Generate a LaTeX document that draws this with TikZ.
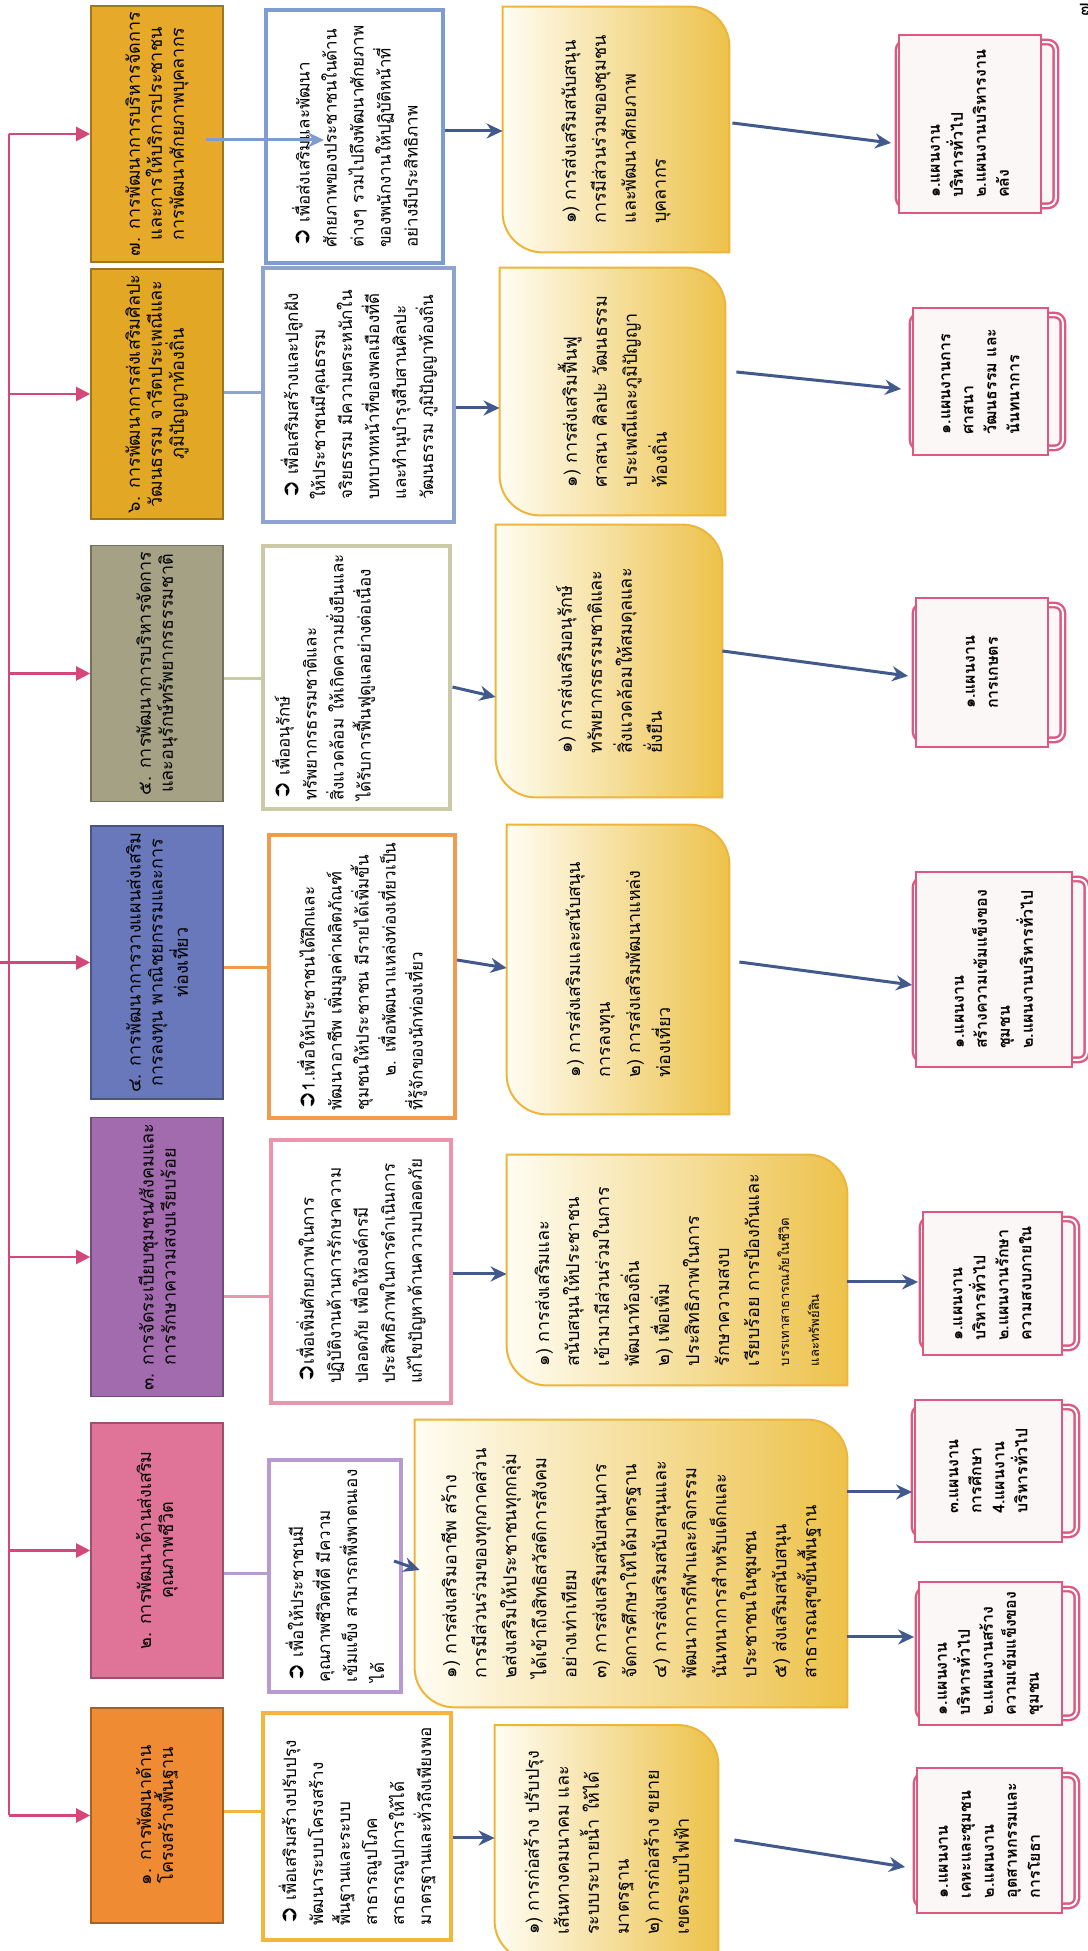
\documentclass[tikz,border=0pt]{standalone}
\usepackage{fontspec}
\setmainfont[Script=Thai]{Loma}
\newfontfamily\symfont{DejaVu Sans}
\usepackage{xcolor}
\usepackage{tikz}
\usetikzlibrary{arrows.meta, calc, backgrounds}
\definecolor{trunkpink}{HTML}{D4477A}
\definecolor{arrblue}{HTML}{41598C}
\definecolor{gOne}{HTML}{EF8B33}
\definecolor{gTwo}{HTML}{DF7398}
\definecolor{gThree}{HTML}{A16BAE}
\definecolor{gFour}{HTML}{6878BA}
\definecolor{gFive}{HTML}{A5A185}
\definecolor{gSix}{HTML}{E3A726}
\definecolor{gSeven}{HTML}{E7A92A}
\definecolor{oOne}{HTML}{F3B63C}
\definecolor{oTwo}{HTML}{B89AD3}
\definecolor{oThree}{HTML}{EC94AC}
\definecolor{oFour}{HTML}{F39B4C}
\definecolor{oFive}{HTML}{CACAA6}
\definecolor{oSix}{HTML}{8EA3CF}
\definecolor{oSeven}{HTML}{7F9CD1}
\definecolor{stratline}{HTML}{EDB53A}
\definecolor{stratlight}{HTML}{FFFDF3}
\definecolor{stratdark}{HTML}{EDC24A}
\definecolor{planline}{HTML}{DC5A82}
\definecolor{planfill}{HTML}{FCF7F7}
\newcommand\goalfont{\fontsize{9}{11}\selectfont}
\newcommand\objfont{\fontsize{8.5}{13.5}\selectfont}
\newcommand\stratfont{\fontsize{9}{15}\selectfont}
\newcommand\planfont{\fontsize{8}{11.5}\selectfont\bfseries}
\newcommand\bul{{\symfont\fontsize{11.5}{11}\selectfont\char"27B2}}
\newcommand\stratpath[1]{\path[stratshape] (#1.north east) -- ($(#1.south east)+(0,40)$) arc[start angle=0, end angle=-90, radius=20pt] -- (#1.south west) -- ($(#1.north west)+(0,-40)$) arc[start angle=180, end angle=90, radius=20pt] -- cycle;}

\begin{document}
\begin{tikzpicture}[
  x=0.5pt, y=0.5pt, rotate=90, transform shape,
  goal/.style={rectangle, draw=#1!70!black, fill=#1, line width=0.8pt, minimum height=66pt, align=center, font=\goalfont, inner sep=3pt},
  obj/.style={rectangle, draw=#1, fill=white, line width=2pt, align=left, font=\objfont, inner sep=4pt},
  strat/.style={rectangle, align=left, font=\stratfont, inner sep=6pt},
  stratshape/.style={draw=stratline, line width=1pt, left color=stratlight, right color=stratdark},
  plan/.style={rectangle, draw=planline, fill=planfill, line width=0.9pt, align=left, font=\planfont, inner sep=4pt},
  planback/.style={draw=planline, line width=1.2pt, double=white, double distance=1pt, fill=planfill, rounded corners=4pt},
  bus/.style={draw=trunkpink, line width=1.1pt},
  busarr/.style={bus, -{Triangle[length=7pt, width=7pt]}},
  link/.style={draw=#1, line width=1.5pt},
  arr/.style={-{Stealth[length=8pt, width=7.5pt]}, draw=arrblue, line width=1.5pt},
]
\useasboundingbox (0,0) rectangle (1951,1088);

% goals
\node[goal=gOne, minimum width=107.5pt] (g1) at (135.5,931) {๑. การพัฒนาด้าน\\โครงสร้างพื้นฐาน};
\node[goal=gTwo, minimum width=127.5pt] (g2) at (400.5,931) {๒. การพัฒนาด้านส่งเสริม\\คุณภาพชีวิต};
\node[goal=gThree, minimum width=139pt] (g3) at (694,931) {๓. การจัดระเบียบชุมชน/สังคมและ\\การรักษาความสงบเรียบร้อย};
\node[goal=gFour, minimum width=130.5pt] (g4) at (988.5,931) {๔. การพัฒนาการวางแผนส่งเสริม\\การลงทุน พาณิชยกรรมและการ\\ท่องเที่ยว};
\node[goal=gFive, minimum width=126.5pt] (g5) at (1277.5,931) {๕. การพัฒนาการบริหารจัดการ\\และอนุรักษ์ทรัพยากรธรรมชาติ};
\node[goal=gSix, minimum width=119pt] (g6) at (1557,931) {๖. การพัฒนาการส่งเสริมศิลปะ\\วัฒนธรรม จารีตประเพณีและ\\ภูมิปัญญาท้องถิ่น};
\node[goal=gSeven, minimum width=121pt] (g7) at (1817,931) {๗. การพัฒนาการบริหารจัดการ\\และการให้บริการประชาชน\\การพัฒนาศักยภาพบุคลากร};

% objectives
\node[obj=oOne, minimum width=113.5pt, minimum height=94pt] (o1) at (124.5,731) {\bul\ เพื่อเสริมสร้างปรับปรุง\\พัฒนาระบบโครงสร้าง\\พื้นฐานและระบบ\\สาธารณูปโภค\\สาธารณูปการให้ได้\\มาตรฐานและทั่วถึงเพียงพอ};
\node[obj=oTwo, minimum width=116pt, minimum height=66pt] (o2) at (375,753) {\bul\ เพื่อให้ประชาชนมี\\คุณภาพชีวิตที่ดี มีความ\\เข้มแข็ง สามารถพึ่งพาตนเอง\\ได้};
\node[obj=oThree, minimum width=131.5pt, minimum height=90pt] (o3) at (679.5,727) {\bul เพื่อเพิ่มศักยภาพในการ\\ปฏิบัติงานด้านการรักษาความ\\ปลอดภัย เพื่อให้องค์กรมี\\ประสิทธิภาพในการดำเนินการ\\แก้ไขปัญหาด้านความปลอดภัย};
\node[obj=oFour, minimum width=141.5pt, minimum height=93pt] (o4) at (974.5,726) {\bul 1.เพื่อให้ประชาชนได้ฝึกและ\\พัฒนาอาชีพ เพิ่มมูลค่าผลิตภัณฑ์\\ชุมชนให้ประชาชน มีรายได้เพิ่มขึ้น\\\hspace*{2em}๒. เพื่อพัฒนาแหล่งท่องเที่ยวเป็น\\ที่รู้จักของนักท่องเที่ยว};
\node[obj=oFive, minimum width=129.5pt, minimum height=93.5pt] (o5) at (1273.5,731) {\bul\ เพื่ออนุรักษ์\\ทรัพยากรธรรมชาติและ\\สิ่งแวดล้อม ให้เกิดความยั่งยืนและ\\ได้รับการฟื้นฟูดูแลอย่างต่อเนื่อง\\[22pt]};
\node[obj=oSix, minimum width=127pt, minimum height=95.5pt] (o6) at (1556,729) {\bul\ เพื่อเสริมสร้างและปลูกฝัง\\ให้ประชาชนมีคุณธรรม\\จริยธรรม มีความตระหนักใน\\บทบาทหน้าที่ของพลเมืองที่ดี\\และทำนุบำรุงสืบสานศิลปะ\\วัฒนธรรม ภูมิปัญญาท้องถิ่น};
\node[obj=oSeven, minimum width=126.5pt, minimum height=88.5pt] (o7) at (1814.5,733) {\bul\ เพื่อส่งเสริมและพัฒนา\\ศักยภาพของประชาชนในด้าน\\ต่างๆ รวมไปถึงพัฒนาศักยภาพ\\ของพนักงานให้ปฏิบัติหน้าที่\\อย่างมีประสิทธิภาพ};

% strategies
\node[strat, minimum width=117.5pt, minimum height=111.5pt] (s1) at (108,481.5) {๑) การก่อสร้าง ปรับปรุง\\เส้นทางคมนาคม และ\\ระบบระบายน้ำ ให้ได้\\มาตรฐาน\\๒) การก่อสร้าง ขยาย\\เขตระบบไฟฟ้า};
\node[strat, minimum width=143.5pt, minimum height=216pt] (s2) at (387.5,457) {๑) การส่งเสริมอาชีพ สร้าง\\การมีส่วนร่วมของทุกภาคส่วน\\๒ส่งเสริมให้ประชาชนทุกกลุ่ม\\ได้เข้าถึงสิทธิสวัสดิการสังคม\\อย่างเท่าเทียม\\๓) การส่งเสริมสนับสนุนการ\\จัดการศึกษาให้ได้มาตรฐาน\\๔) การส่งเสริมสนับสนุนและ\\พัฒนาการกีฬาและกิจกรรม\\นันทนาการสำหรับเด็กและ\\ประชาชนในชุมชน\\๕) ส่งเสริมสนับสนุน\\สาธารณสุขขั้นพื้นฐาน};
\node[strat, minimum width=115pt, minimum height=170pt] (s3) at (681,411) {๑) การส่งเสริมและ\\สนับสนุนให้ประชาชน\\เข้ามามีส่วนร่วมในการ\\พัฒนาท้องถิ่น\\๒) เพื่อเพิ่ม\\ประสิทธิภาพในการ\\รักษาความสงบ\\เรียบร้อย การป้องกันและ\\{\fontsize{6.5}{11}\selectfont บรรเทาสาธารณภัยในชีวิต}\\{\fontsize{6.5}{11}\selectfont และทรัพย์สิน}};
\node[strat, minimum width=144.5pt, minimum height=111pt] (s4) at (981.5,470) {๑) การส่งเสริมและสนับสนุน\\การลงทุน\\๒) การส่งเสริมพัฒนาแหล่ง\\ท่องเที่ยว};
\node[strat, minimum width=136pt, minimum height=113pt] (s5) at (1290,479) {๑) การส่งเสริมอนุรักษ์\\ทรัพยากรธรรมชาติและ\\สิ่งแวดล้อมให้สมดุลและ\\ยั่งยืน};
\node[strat, minimum width=123.5pt, minimum height=112.5pt] (s6) at (1559.5,475.5) {๑) การส่งเสริมฟื้นฟู\\ศาสนา ศิลปะ วัฒนธรรม\\ประเพณีและภูมิปัญญา\\ท้องถิ่น};
\node[strat, minimum width=122.5pt, minimum height=113pt] (s7) at (1821.5,472) {๑) การส่งเสริมสนับสนุน\\การมีส่วนร่วมของชุมชน\\และพัฒนาศักยภาพ\\บุคลากร};

% plans
\node[plan, minimum width=72.5pt, minimum height=72.5pt] (p1) at (110.5,98.5) {๑.แผนงาน\\เคหะและชุมชน\\๒.แผนงาน\\อุตสาหกรรมและ\\การโยธา};
\node[plan, minimum width=71.5pt, minimum height=71.5pt] (p2a) at (297.5,97.5) {๑.แผนงาน\\บริหารทั่วไป\\๒.แผนงานสร้าง\\ความเข้มแข็งของ\\ชุมชน};
\node[plan, minimum width=71pt, minimum height=73.5pt] (p2b) at (480,99.5) {๓.แผนงาน\\การศึกษา\\4.แผนงาน\\บริหารทั่วไป};
\node[plan, minimum width=71.5pt, minimum height=69.5pt] (p3) at (667.5,95.5) {๑.แผนงาน\\บริหารทั่วไป\\๒.แผนงานรักษา\\ความสงบภายใน};
\node[plan, minimum width=97.5pt, minimum height=78pt] (p4) at (981.5,94) {๑.แผนงาน\\สร้างความเข้มแข็งของ\\ชุมชน\\๒.แผนงานบริหารทั่วไป};
\node[plan, minimum width=74.5pt, minimum height=66pt] (p5) at (1278.5,106) {๑.แผนงาน\\การเกษตร};
\node[plan, minimum width=73.5pt, minimum height=67.5pt] (p6) at (1569.5,107.5) {๑.แผนงานการ\\ศาสนา\\วัฒนธรรม และ\\นันทนาการ};
\node[plan, minimum width=89pt, minimum height=71pt] (p7) at (1827,118) {๑.แผนงาน\\บริหารทั่วไป\\๒.แผนงานบริหารงาน\\คลัง};

\node[font=\small] (pg) at (1941,3) {๗};

% shapes behind
\begin{scope}[on background layer]
\stratpath{s1}
\stratpath{s2}
\stratpath{s3}
\stratpath{s4}
\stratpath{s5}
\stratpath{s6}
\stratpath{s7}
\draw[planback] ($(p1.north west)+(8,0)$) rectangle ($(p1.south east)+(-8,-14)$);
\draw[planback] ($(p2a.north west)+(8,0)$) rectangle ($(p2a.south east)+(-8,-14)$);
\draw[planback] ($(p2b.north west)+(8,0)$) rectangle ($(p2b.south east)+(-8,-14)$);
\draw[planback] ($(p3.north west)+(8,0)$) rectangle ($(p3.south east)+(-8,-14)$);
\draw[planback] ($(p4.north west)+(8,0)$) rectangle ($(p4.south east)+(-8,-14)$);
\draw[planback] ($(p5.north west)+(8,0)$) rectangle ($(p5.south east)+(-8,-14)$);
\draw[planback] ($(p6.north west)+(8,0)$) rectangle ($(p6.south east)+(-8,-14)$);
\draw[planback] ($(p7.north west)+(8,0)$) rectangle ($(p7.south east)+(-8,-14)$);
\end{scope}

% trunk line
\draw[bus] ($(g1.north)+(0,81)$) -- ($(g7.north)+(0,81)$);
\draw[busarr] ($(g1.north)+(0,81)$) -- (g1.north);
\draw[busarr] ($(g2.north)+(0,81)$) -- (g2.north);
\draw[busarr] ($(g3.north)+(0,81)$) -- (g3.north);
\draw[busarr] ($(g4.north)+(0,95)$) -- (g4.north);
\draw[busarr] ($(g5.north)+(0,81)$) -- (g5.north);
\draw[busarr] ($(g6.north)+(0,81)$) -- (g6.north);
\draw[busarr] ($(g7.north)+(0,81)$) -- (g7.north);

% goal to objective
\draw[link=oOne] ($(g1.south)+(3.5,0)$) -- ($(o1.north)+(14.5,0)$);
\draw[link=oTwo] ($(g2.south)+(-23.5,0)$) -- ($(o2.north)+(2,0)$);
\draw[link=oThree] ($(g3.south)+(-40,0)$) -- ($(o3.north)+(-25.5,0)$);
\draw[link=oFour] ($(g4.south)+(-5.5,0)$) -- ($(o4.north)+(8.5,0)$);
\draw[link=oFive] ($(g5.south)+(-5.5,0)$) -- ($(o5.north)+(-1.5,0)$);
\draw[link=oSix] ($(g6.south)+(1,0)$) -- ($(o6.north)+(2,0)$);
\draw[link=oSeven, -{Stealth[length=8pt, width=7.5pt]}] ($(g7.south)+(-6,18)$) -- ($(o7.north)+(-3.5,-59.5)$);

% objective to strategy
\draw[arr] ($(o1.south)+(-11.5,0)$) -- ($(s1.north)+(5,0)$);
\draw[arr] ($(o2.south)+(15,9)$) -- ($(s2.north)+(-6.5,-5)$);
\draw[arr] ($(o3.south)+(-2.5,0)$) -- ($(s3.north)+(-4,0)$);
\draw[arr] ($(o4.south)+(16.5,0)$) -- ($(s4.north)+(1.5,0)$);
\draw[arr] ($(o5.south)+(-9.5,0)$) -- ($(s5.north)+(-36,0)$);
\draw[arr] ($(o6.south)+(-13,0)$) -- ($(s6.north)+(-16.5,0)$);
\draw[arr] ($(o7.south)+(5.5,0)$) -- ($(s7.north)+(-1.5,0)$);

% strategy to plan
\draw[arr] ($(s1.south)+(3,-16)$) -- ($(p1.north)+(-26.5,11)$);
\draw[arr] ($(s2.south)+(-73.5,0)$) -- ($(p2a.north)+(16.5,4)$);
\draw[arr] ($(s2.south)+(71.5,0)$) -- ($(p2b.north)+(-21,2)$);
\draw[arr] ($(s3.south)+(-12,0)$) -- ($(p3.north)+(1.5,4)$);
\draw[arr] ($(s4.south)+(7.5,-10)$) -- ($(p4.north)+(-15.5,3)$);
\draw[arr] ($(s5.south)+(10,0)$) -- ($(p5.north)+(-3.5,7)$);
\draw[arr] ($(s6.south)+(19.5,-11)$) -- ($(p6.north)+(-7.5,11)$);
\draw[arr] ($(s7.south)+(6.5,-3)$) -- ($(p7.north)+(-19,7)$);

\end{tikzpicture}
\end{document}
